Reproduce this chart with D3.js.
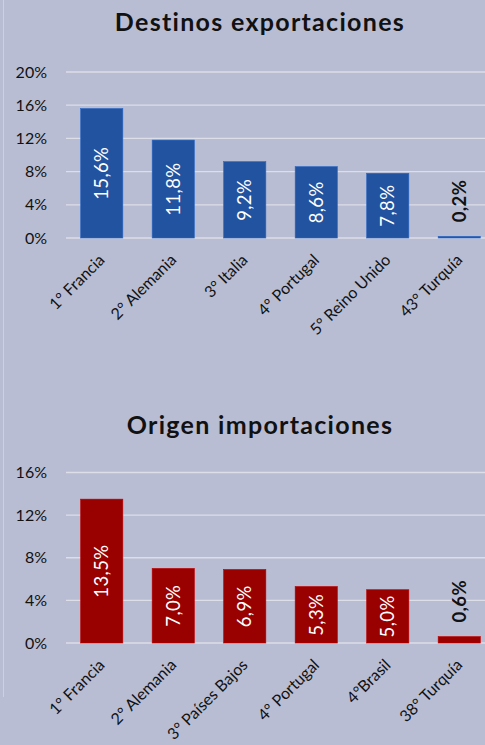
<!DOCTYPE html>
<html>
<head>
<meta charset="utf-8">
<script src="https://cdn.jsdelivr.net/npm/d3@7"></script>
<style>
  html, body { margin: 0; padding: 0; background: #b8bdd3; }
  svg { display: block; font-family: Lato, "Open Sans", sans-serif; }
</style>
</head>
<body>
<svg id="plot"></svg>
<script>
const W = 485, H = 745;

// exportaciones
const expCats = ["1° Francia", "2° Alemania", "3° Italia", "4° Portugal", "5° Reino Unido", "43° Turquía"];
const expVals = [15.6, 11.8, 9.2, 8.6, 7.8, 0.2];
const expTicks = [0, 4, 8, 12, 16, 20];

// importaciones
const impCats = ["1° Francia", "2° Alemania", "3° Países Bajos", "4° Portugal", "4°Brasil", "38° Turquía"];
const impVals = [13.5, 7.0, 6.9, 5.3, 5.0, 0.6];
const impTicks = [0, 4, 8, 12, 16];

const svg = d3.select("#plot").attr("width", W).attr("height", H);

// faint slide frame on the left
svg.append("line")
  .attr("x1", 3.5).attr("x2", 3.5).attr("y1", 0).attr("y2", 697)
  .attr("stroke", "#cdd0df").attr("stroke-width", 1);

function drawChart(opts) {
  const { title, titleY, cats, vals, ticks, yTop, yBottom, color } = opts;

  svg.append("text")
    .attr("x", 260).attr("y", titleY)
    .attr("text-anchor", "middle")
    .attr("font-size", 25).attr("font-weight", "bold")
    .attr("letter-spacing", 1.3)
    .attr("fill", "#111")
    .text(title);

  const x = d3.scaleBand()
    .domain(cats)
    .range([66, 495])
    .paddingInner(0.41)
    .paddingOuter(0.205);

  const y = d3.scaleLinear()
    .domain([0, d3.max(ticks)])
    .range([yBottom, yTop]);

  // gridlines
  svg.append("g")
    .selectAll("line")
    .data(ticks)
    .join("line")
    .attr("x1", 66).attr("x2", W)
    .attr("y1", d => y(d)).attr("y2", d => y(d))
    .attr("stroke", "#dcdee8").attr("stroke-width", 1.3);

  // y axis labels
  const yAxis = d3.axisLeft(y).tickValues(ticks).tickSize(0).tickPadding(0)
    .tickFormat(d => d + "%");
  svg.append("g")
    .attr("transform", "translate(47,0)")
    .call(yAxis)
    .call(g => g.select(".domain").remove())
    .selectAll("text")
    .attr("font-size", 16)
    .attr("font-family", "Lato, sans-serif")
    .attr("fill", "#111");

  // bars
  svg.append("g")
    .selectAll("rect")
    .data(vals)
    .join("rect")
    .attr("x", (d, i) => x(cats[i]))
    .attr("width", x.bandwidth())
    .attr("y", d => y(d))
    .attr("height", d => y(0) - y(d))
    .attr("fill", color)
    .attr("stroke", d3.color(color).brighter(0.6))
    .attr("stroke-width", 0.6);

  // value labels
  svg.append("g")
    .selectAll("text")
    .data(vals)
    .join("text")
    .attr("transform", (d, i) => {
      const cx = x(cats[i]) + x.bandwidth() / 2;
      const cy = d < 2 ? y(d) - 14 : (y(d) + y(0)) / 2;
      return `translate(${cx},${cy}) rotate(-90)`;
    })
    .attr("text-anchor", d => d < 2 ? "start" : "middle")
    .attr("dy", "0.35em")
    .attr("font-size", 18.5)
    .attr("letter-spacing", 0.4)
    .attr("font-weight", d => d < 2 ? "bold" : "normal")
    .attr("fill", d => d < 2 ? "#111" : "#fff")
    .text(d => d.toFixed(1).replace(".", ",") + "%");

  // category labels
  svg.append("g")
    .selectAll("text")
    .data(cats)
    .join("text")
    .attr("transform", d => `translate(${x(d) + x.bandwidth() / 2 + 4},${yBottom + 23}) rotate(-45)`)
    .attr("text-anchor", "end")
    .attr("font-size", 16)
    .attr("fill", "#111")
    .text(d => d);
}

drawChart({
  title: "Destinos exportaciones", titleY: 31,
  cats: expCats, vals: expVals, ticks: expTicks,
  yTop: 72, yBottom: 238, color: "#2253a0"
});

drawChart({
  title: "Origen importaciones", titleY: 434,
  cats: impCats, vals: impVals, ticks: impTicks,
  yTop: 472.5, yBottom: 643, color: "#990000"
});
</script>
</body>
</html>
